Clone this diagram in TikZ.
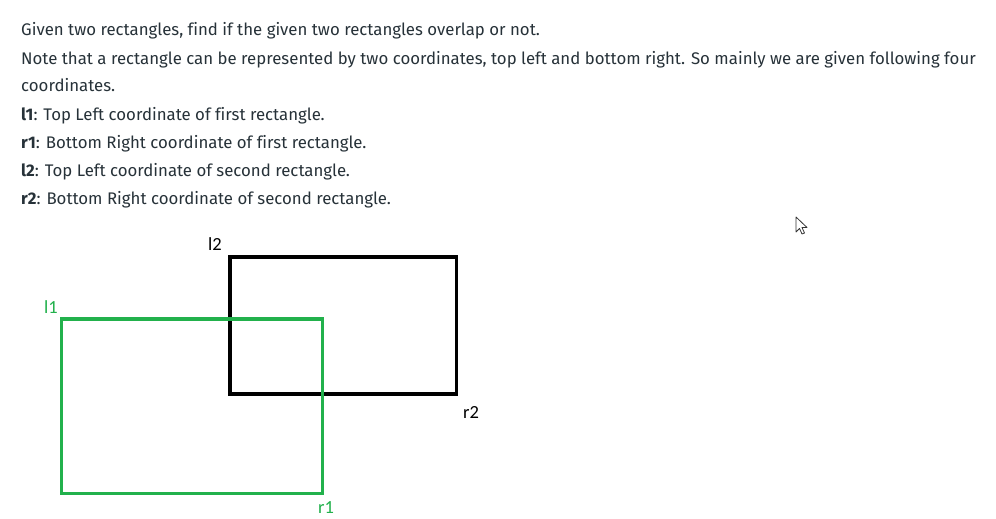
\documentclass[tikz,border=0pt]{standalone}
\usepackage{fontspec}
\setmainfont{Fira Sans}[Ligatures=NoCommon]
\newfontfamily\labfont{Carlito}
\definecolor{txt}{HTML}{273239}
\definecolor{pgreen}{HTML}{22B14C}
\begin{document}
\begin{tikzpicture}[x=1pt,y=-1pt,
  line/.style={anchor=base west,inner sep=0pt,text=txt,font=\fontsize{16.8}{18}\selectfont},
  lab/.style={anchor=base west,inner sep=0pt,font=\labfont\fontsize{18.5}{20}\selectfont},
  rectblack/.style={draw=black,line width=3.2pt},
  rectgreen/.style={draw=pgreen,line width=3.2pt}]
\useasboundingbox[fill=white] (0,0) rectangle (996,519);
\node[line] (t1) at (21,36) {Given two rectangles, find if the given two rectangles overlap or not.};
\node[line] (t2) at (21,64) {Note that a rectangle can be represented by two coordinates, top left and bottom right. So mainly we are given following four};
\node[line] (t3) at (21,92) {coordinates.};
\node[line] (t4) at (21,120) {\textbf{l1}: Top Left coordinate of first rectangle.};
\node[line] (t5) at (21,148) {\textbf{r1}: Bottom Right coordinate of first rectangle.};
\node[line] (t6) at (21,176) {\textbf{l2}: Top Left coordinate of second rectangle.};
\node[line] (t7) at (21,204) {\textbf{r2}: Bottom Right coordinate of second rectangle.};
% rectangles
\coordinate (l2c) at (230,257);
\coordinate (r2c) at (456.5,394);
\coordinate (l1c) at (61.5,319);
\coordinate (r1c) at (322.5,493.5);
\draw[rectblack] (l2c) rectangle (r2c);
\draw[rectgreen] (l1c) rectangle (r1c);
\node[lab,text=black] (l2) at (208,250) {l2};
\node[lab,text=pgreen] (l1) at (44,313) {l1};
\node[lab,text=black] (r2) at (463,418) {r2};
\node[lab,text=pgreen] (r1) at (318,513) {r1};
% mouse cursor
\draw[black!80,line width=0.8pt,line join=round,fill=white]
  (796,217) -- (796,232) -- (799.5,228.5) -- (802,234) -- (804.5,233) -- (802,227.5) -- (807,227.5) -- cycle;
\end{tikzpicture}
\end{document}
